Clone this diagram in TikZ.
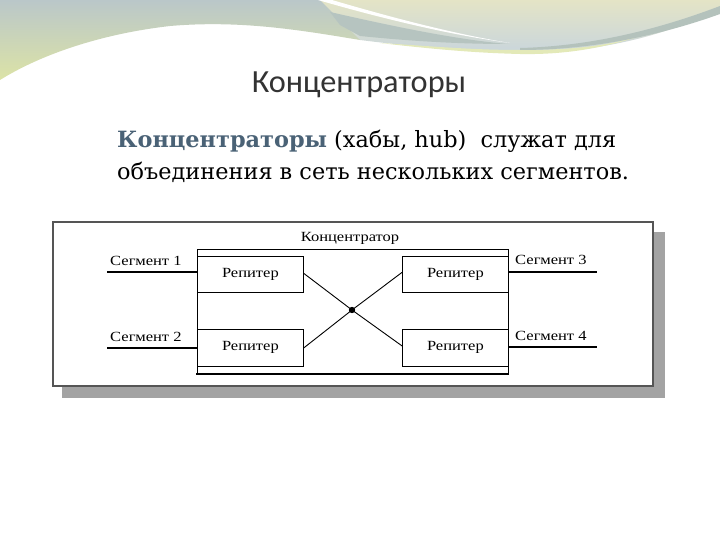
\documentclass[tikz,border=0pt]{standalone}
\usepackage{fontspec}
\setmainfont{Liberation Serif}
\newfontfamily\titlefont{Carlito}
\newfontfamily\bodyfont{DejaVu Serif}
\newfontfamily\diagfont[FakeStretch=1.18]{Liberation Serif}
\usetikzlibrary{calc}
\definecolor{framegray}{HTML}{555555}
\definecolor{shadowgray}{HTML}{A3A3A3}
\definecolor{headblue}{HTML}{4A6276}
\definecolor{decoGray}{HTML}{BAC7C9}
\definecolor{decoYellow}{HTML}{DCE3A6}
\definecolor{decoPale}{HTML}{E4E4C6}
\definecolor{decoBlue}{HTML}{C8D5DD}
\definecolor{decoBand}{HTML}{B4C2BC}
\tikzset{
  lbl/.style={font=\diagfont\fontsize{14}{16}\selectfont, inner sep=0pt},
  repbox/.style={draw=black, line width=0.8pt, fill=white},
  wire/.style={line width=1.4pt, black},
  xline/.style={line width=0.9pt, black},
}
\begin{document}
\begin{tikzpicture}[x=1pt,y=-1pt]
\useasboundingbox (0,0) rectangle (720,540);
\fill[white] (0,0) rectangle (720,540);
% ---- top decoration ----
\shade[top color=decoGray, bottom color=decoYellow, shading angle=0]
  (0,0) -- (360,0) -- (360,40) .. controls (300,30) and (240,20) .. (170,26)
  .. controls (100,34) and (40,55) .. (0,80) -- cycle;
\shade[top color=decoPale, bottom color=decoBlue]
  (320,0) -- (720,0) -- (720,8) .. controls (660,40) and (580,55) .. (510,52)
  .. controls (450,50) and (400,45) .. (360,40) -- (340,20) -- cycle;
% yellow band along lower edge (right)
\fill[decoYellow!80!white]
  (380,43) .. controls (440,50) and (480,53) .. (520,54)
  .. controls (570,55) and (610,46) .. (640,36)
  .. controls (600,48) and (560,50) .. (520,50)
  .. controls (470,50) and (430,46) .. (380,43) -- cycle;
% gray band along upper right arc
\fill[decoBand]
  (520,48) .. controls (600,46) and (670,25) .. (720,6) -- (720,14)
  .. controls (670,32) and (600,50) .. (520,50) -- cycle;
% gray band below stripe
\fill[decoBand!70!decoGray]
  (330,12) .. controls (400,28) and (460,40) .. (508,44)
  .. controls (450,44) and (400,40) .. (360,36) -- (340,25) -- cycle;
% white stripe
\fill[white]
  (318,0) -- (332,0) .. controls (400,20) and (460,35) .. (510,43)
  .. controls (450,35) and (380,18) .. (318,0) -- cycle;
% ---- title ----
\node[anchor=base, inner sep=0pt, text=black!80, font=\titlefont\fontsize{32.3}{36}\selectfont]
  (title) at (359,93) {Концентраторы};
% ---- body text ----
\node[anchor=base west, inner sep=0pt, font=\bodyfont\fontsize{22.4}{26}\selectfont]
  (line1) at (117,148) {\textcolor{headblue}{\bfseries Концентраторы} (хабы, hub)\ \ служат для};
\node[anchor=base west, inner sep=0pt, font=\bodyfont\fontsize{22.4}{26}\selectfont]
  (line2) at (117,180) {объединения в сеть нескольких сегментов.};
% ---- diagram ----
\fill[shadowgray] (62,232) rectangle (665,398);
\draw[framegray, line width=1.4pt, fill=white] (53,222) rectangle (653,386);
\node[lbl, anchor=base] (hublbl) at (350,241) {Концентратор};
\draw[line width=0.8pt] (197,374) -- (197,249) -- (508,249) -- (508,374);
\draw[line width=2pt] (196,374) -- (509,374);
\node[repbox, minimum width=106pt, minimum height=36pt, anchor=north west, lbl] (r1) at (197,256) {Репитер};
\node[repbox, minimum width=106pt, minimum height=37pt, anchor=north west, lbl] (r2) at (197,329) {Репитер};
\node[repbox, minimum width=106pt, minimum height=36pt, anchor=north west, lbl] (r3) at (402,256) {Репитер};
\node[repbox, minimum width=106pt, minimum height=37pt, anchor=north west, lbl] (r4) at (402,329) {Репитер};
\fill (352,310) circle (3.2pt);
\coordinate (hubc) at (352,310);
\draw[xline] ($(r1.east)+(0,-1)$) -- (hubc) -- ($(r4.west)+(0,-2)$);
\draw[xline] ($(r2.east)+(0,0)$) -- (hubc) -- ($(r3.west)+(0,-2)$);
% segments
\coordinate (s1) at (107,272);
\coordinate (s2) at (107,348);
\coordinate (s3) at (597,272);
\coordinate (s4) at (597,347);
\draw[wire] (s1) -- (r1.west |- s1);
\draw[wire] (s2) -- (r2.west |- s2);
\draw[wire] (r3.east |- s3) -- (s3);
\draw[wire] (r4.east |- s4) -- (s4);
\node[lbl, anchor=base west] (l1) at (110,265) {Сегмент 1};
\node[lbl, anchor=base west] (l2) at (110,341) {Сегмент 2};
\node[lbl, anchor=base west] (l3) at (515,264) {Сегмент 3};
\node[lbl, anchor=base west] (l4) at (515,340) {Сегмент 4};
\end{tikzpicture}
\end{document}
